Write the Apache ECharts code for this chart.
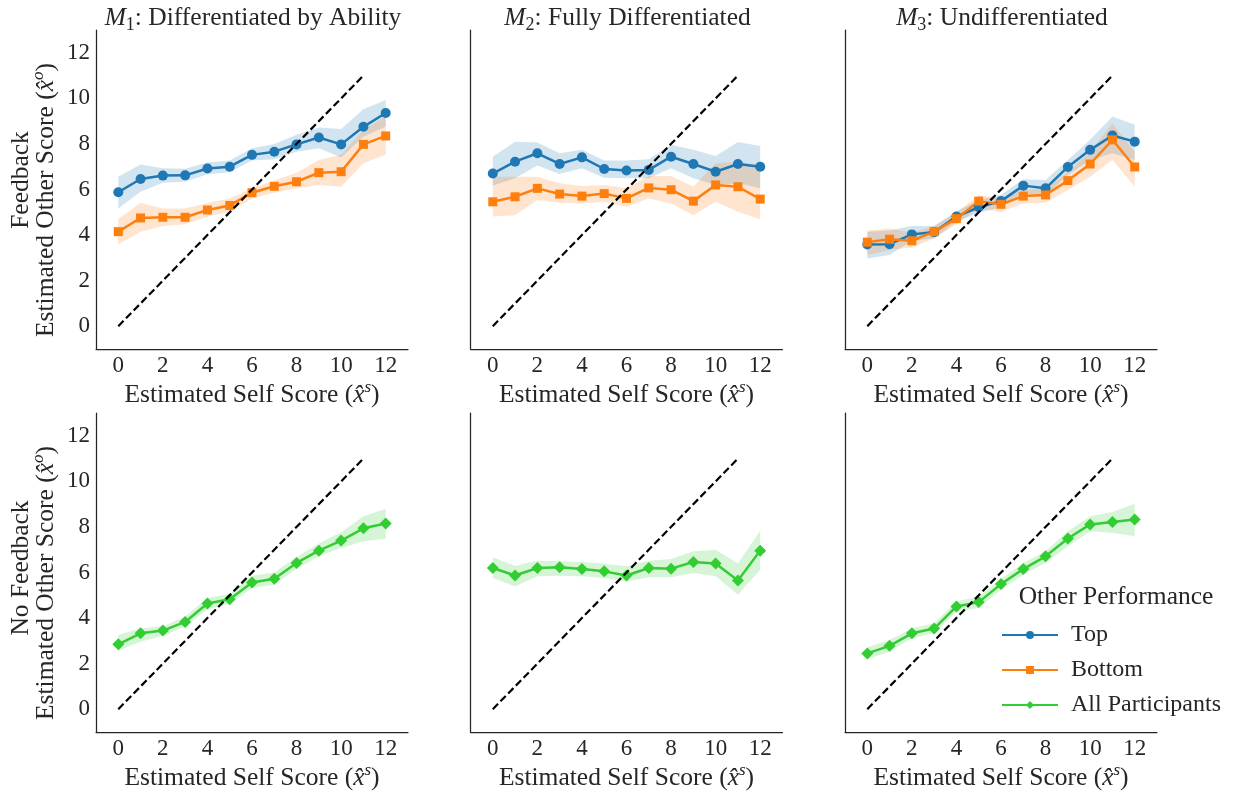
<!DOCTYPE html>
<html><head><meta charset="utf-8">
<script src="https://cdn.jsdelivr.net/npm/echarts@6/dist/echarts.min.js"></script>
<style>html,body{margin:0;padding:0;background:#fff}#c{width:1240px;height:794px}</style>
</head><body><div id="c"></div>
<script>
// ---------- data ----------
const xs = [0,1,2,3,4,5,6,7,8,9,10,11,12];
const tickValues = [0,2,4,6,8,10,12];
const diagX = [0, 11];
const diagY = [0, 11];

// M1 feedback
const m1TopMean = [5.88,6.46,6.61,6.62,6.92,7.00,7.52,7.66,7.98,8.28,7.98,8.75,9.36];
const m1TopLo   = [5.17,5.90,6.30,6.34,6.67,6.76,7.27,7.33,7.66,7.81,7.40,8.32,8.76];
const m1TopHi   = [6.56,7.10,6.93,6.91,7.18,7.27,7.81,8.00,8.40,8.72,8.65,9.52,9.93];
const m1BotMean = [4.15,4.75,4.78,4.78,5.10,5.30,5.86,6.14,6.34,6.74,6.78,7.98,8.35];
const m1BotLo   = [3.60,4.15,4.40,4.48,4.81,5.02,5.61,5.86,6.05,6.20,6.12,7.15,7.52];
const m1BotHi   = [4.70,5.42,5.17,5.17,5.42,5.61,6.05,6.39,6.74,7.30,7.52,8.62,9.20];
// M2 feedback
const m2TopMean = [6.70,7.22,7.59,7.12,7.41,6.90,6.83,6.86,7.44,7.12,6.78,7.12,7.00];
const m2TopLo   = [6.17,6.49,7.05,6.68,6.93,6.52,6.49,6.49,6.93,6.49,6.20,6.27,6.05];
const m2TopHi   = [7.44,8.10,8.06,7.59,7.74,7.27,7.27,7.33,7.96,7.74,7.47,8.09,7.91];
const m2BotMean = [5.46,5.68,6.05,5.80,5.71,5.82,5.61,6.07,5.99,5.49,6.20,6.12,5.58];
const m2BotLo   = [4.81,4.87,5.54,5.42,5.39,5.46,5.24,5.61,5.39,4.87,5.46,5.02,4.69];
const m2BotHi   = [6.56,6.56,6.56,6.27,6.15,6.20,6.05,6.59,6.59,6.12,7.15,7.22,7.08];
// M3 feedback
const m3TopMean = [3.59,3.60,4.03,4.13,4.81,5.22,5.49,6.17,6.05,6.99,7.74,8.37,8.10];
const m3TopLo   = [2.97,3.12,3.74,3.85,4.58,4.98,5.22,5.83,5.71,6.64,7.30,7.59,7.30];
const m3TopHi   = [4.15,4.20,4.40,4.40,5.05,5.54,5.76,6.45,6.42,7.30,8.18,9.20,8.84];
const m3BotMean = [3.69,3.82,3.75,4.15,4.72,5.49,5.35,5.71,5.76,6.39,7.12,8.18,6.99];
const m3BotLo   = [3.12,3.34,3.46,3.85,4.48,5.17,5.02,5.39,5.42,5.98,6.56,7.30,6.12];
const m3BotHi   = [4.20,4.29,4.10,4.40,4.98,5.76,5.61,5.98,6.05,6.78,7.66,8.91,7.66];
// No feedback, all participants
const m1AllMean = [2.85,3.33,3.45,3.83,4.64,4.83,5.56,5.73,6.42,6.96,7.40,7.94,8.15];
const m1AllLo   = [2.57,2.96,3.22,3.63,4.39,4.63,5.32,5.46,6.15,6.71,7.08,7.37,7.48];
const m1AllHi   = [3.26,3.55,3.63,4.07,4.88,5.07,5.86,6.00,6.68,7.27,7.77,8.47,8.80];
const m2AllMean = [6.20,5.87,6.20,6.23,6.15,6.05,5.87,6.20,6.17,6.46,6.39,5.65,6.96];
const m2AllLo   = [5.76,5.39,5.83,5.86,5.83,5.76,5.61,5.79,5.79,5.98,5.83,5.02,6.12];
const m2AllHi   = [6.67,6.30,6.52,6.49,6.46,6.39,6.27,6.52,6.59,6.93,7.00,6.39,7.84];
const m3AllMean = [2.45,2.78,3.33,3.54,4.51,4.70,5.49,6.15,6.71,7.49,8.11,8.22,8.33];
const m3AllLo   = [2.19,2.52,3.11,3.33,4.29,4.44,5.24,5.90,6.42,7.15,7.81,7.74,7.59];
const m3AllHi   = [2.72,3.04,3.55,3.77,4.73,4.95,5.71,6.42,6.93,7.81,8.47,8.65,9.02];

const seriesNames = ['Top', 'Bottom', 'All Participants'];
const panelTitles = [
  ['M', '1', ': Differentiated by Ability'],
  ['M', '2', ': Fully Differentiated'],
  ['M', '3', ': Undifferentiated']
];
const rowLabels = ['Feedback', 'No Feedback'];

// ---------- style ----------
const FONT = 'Liberation Serif';
const TXT = '#262626';
const C_TOP = '#1f77b4', C_BOT = '#ff7f0e', C_ALL = '#32cd32';
const LEFTS = [96, 470.5, 845], TOPS = [30, 413], GW = 312, GH = 319;
const NAME_FS = 25.5;

function rgba(hex, a) {
  const n = parseInt(hex.slice(1), 16);
  return 'rgba(' + (n >> 16 & 255) + ',' + (n >> 8 & 255) + ',' + (n & 255) + ',' + a + ')';
}
const pairs = (ys) => xs.map((x, i) => [x, ys[i]]);

function bandSeries(gi, lo, hi, color) {
  return {
    type: 'custom', xAxisIndex: gi, yAxisIndex: gi, silent: true, z: 1,
    data: xs.map((x, i) => [x, lo[i], hi[i]]),
    encode: { x: 0, y: [1, 2] },
    renderItem: function (params, api) {
      if (params.dataIndex !== 0) return null;
      const pts = [];
      for (let i = 0; i < xs.length; i++) pts.push(api.coord([xs[i], hi[i]]));
      for (let i = xs.length - 1; i >= 0; i--) pts.push(api.coord([xs[i], lo[i]]));
      return { type: 'polygon', shape: { points: pts }, style: { fill: rgba(color, 0.2), stroke: null } };
    }
  };
}
function lineSeries(gi, name, ys, color, symbol, size) {
  return {
    type: 'line', name: name, xAxisIndex: gi, yAxisIndex: gi, z: 3,
    data: pairs(ys), symbol: symbol, symbolSize: size, showSymbol: true,
    lineStyle: { color: color, width: 2.5 }, itemStyle: { color: color, borderWidth: 0 },
    animation: false
  };
}
function diagSeries(gi) {
  return {
    type: 'line', name: 'diag' + gi, xAxisIndex: gi, yAxisIndex: gi, z: 4,
    data: diagX.map((x, i) => [x, diagY[i]]), symbol: 'none', silent: true,
    lineStyle: { color: '#000', width: 2.2, type: [7.5, 3.5] }, animation: false
  };
}

const richEC = {
  n: { fontFamily: FONT, fontSize: NAME_FS, fontWeight: 'normal', color: TXT, lineHeight: 29, verticalAlign: 'bottom' },
  i: { fontFamily: FONT, fontSize: NAME_FS, fontWeight: 'normal', color: TXT, fontStyle: 'italic', lineHeight: 29, verticalAlign: 'bottom' },
  p: { fontFamily: FONT, fontSize: 17, fontWeight: 'normal', color: TXT, fontStyle: 'italic', lineHeight: 17, verticalAlign: 'top' }
};
const richZR = {
  n: { fontFamily: FONT, fontSize: NAME_FS, fill: TXT, lineHeight: 29, verticalAlign: 'bottom' },
  i: { fontFamily: FONT, fontSize: NAME_FS, fill: TXT, fontStyle: 'italic', lineHeight: 29, verticalAlign: 'bottom' },
  p: { fontFamily: FONT, fontSize: 17, fill: TXT, fontStyle: 'italic', lineHeight: 17, verticalAlign: 'top' }
};
const richTitle = {
  m: { fontFamily: FONT, fontSize: NAME_FS, fontWeight: 'normal', color: TXT, fontStyle: 'italic', lineHeight: 29, verticalAlign: 'top' },
  s: { fontFamily: FONT, fontSize: 18, fontWeight: 'normal', color: TXT, lineHeight: 18, verticalAlign: 'bottom' },
  n: { fontFamily: FONT, fontSize: NAME_FS, fontWeight: 'normal', color: TXT, lineHeight: 29, verticalAlign: 'top' }
};

const grids = [], xAxes = [], yAxes = [], series = [], titles = [], graphics = [];
for (let p = 0; p < 6; p++) {
  const row = Math.floor(p / 3), col = p % 3;
  grids.push({ left: LEFTS[col], top: TOPS[row], width: GW, height: GH, outerBoundsMode: 'none' });
  xAxes.push({
    gridIndex: p, type: 'value', min: -1, max: 13,
    splitLine: { show: false }, axisTick: { show: false },
    axisLine: { onZero: false, lineStyle: { color: TXT, width: 1.25 } },
    axisLabel: { customValues: tickValues, margin: 5, fontSize: 23, fontFamily: FONT, color: TXT },
    name: '{n|Estimated Self Score (}{i|x\u0302}{p|s}{n|)}',
    nameLocation: 'middle', nameGap: 30,
    nameTextStyle: { rich: richEC }
  });
  yAxes.push({
    gridIndex: p, type: 'value', min: -1, max: 13,
    splitLine: { show: false }, axisTick: { show: false },
    axisLine: { onZero: false, lineStyle: { color: TXT, width: 1.25 } },
    axisLabel: { show: col === 0, customValues: tickValues, margin: 6, padding: [4, 0, 0, 0], fontSize: 23, fontFamily: FONT, color: TXT }
  });
}
// Feedback row
const fb = [
  [m1TopMean, m1TopLo, m1TopHi, m1BotMean, m1BotLo, m1BotHi],
  [m2TopMean, m2TopLo, m2TopHi, m2BotMean, m2BotLo, m2BotHi],
  [m3TopMean, m3TopLo, m3TopHi, m3BotMean, m3BotLo, m3BotHi]
];
fb.forEach((d, c) => {
  series.push(bandSeries(c, d[1], d[2], C_TOP));
  series.push(bandSeries(c, d[4], d[5], C_BOT));
  series.push(lineSeries(c, seriesNames[0], d[0], C_TOP, 'circle', 10));
  series.push(lineSeries(c, seriesNames[1], d[3], C_BOT, 'rect', 9));
  series.push(diagSeries(c));
});
const nf = [[m1AllMean, m1AllLo, m1AllHi], [m2AllMean, m2AllLo, m2AllHi], [m3AllMean, m3AllLo, m3AllHi]];
nf.forEach((d, c) => {
  const gi = 3 + c;
  series.push(bandSeries(gi, d[1], d[2], C_ALL));
  series.push(lineSeries(gi, seriesNames[2], d[0], C_ALL, 'diamond', 12));
  series.push(diagSeries(gi));
});
// titles
panelTitles.forEach((t, c) => {
  titles.push({
    text: '{m|' + t[0] + '}{s|' + t[1] + '}{n|' + t[2] + '}',
    left: LEFTS[c] + GW / 2 - 4, top: 0, textAlign: 'center',
    textStyle: { fontWeight: 'normal', rich: richTitle }
  });
});
// y axis names (two lines, left column)
const yNameCenters = [[200, 180], [583, 568]];
rowLabels.forEach((lab, r) => {
  graphics.push({
    type: 'text', x: 45, y: yNameCenters[r][0], rotation: Math.PI / 2,
    style: { text: '{n|Estimated Other Score (}{i|x\u0302}{p|o}{n|)}', rich: richZR, align: 'center', verticalAlign: 'middle' }
  });
  graphics.push({
    type: 'text', x: 21, y: yNameCenters[r][1], rotation: Math.PI / 2,
    style: { text: lab, fontFamily: FONT, fontSize: NAME_FS, fill: TXT, align: 'center', verticalAlign: 'middle' }
  });
});
graphics.push({
  type: 'text', x: 1116, y: 597,
  style: { text: 'Other Performance', fontFamily: FONT, fontSize: NAME_FS, fill: TXT, align: 'center', verticalAlign: 'middle' }
});

const chart = echarts.init(document.getElementById('c'), null, { renderer: 'canvas' });
chart.setOption({
  backgroundColor: '#fff',
  animation: false,
  title: titles,
  grid: grids, xAxis: xAxes, yAxis: yAxes, series: series,
  graphic: graphics,
  legend: {
    data: seriesNames, orient: 'vertical', left: 996, top: 618,
    itemWidth: 56, itemHeight: 10, itemGap: 11, selectedMode: false,
    textStyle: { fontFamily: FONT, fontSize: 24, color: TXT, padding: [0, 0, 0, 8] }
  }
});
</script>
</body></html>
